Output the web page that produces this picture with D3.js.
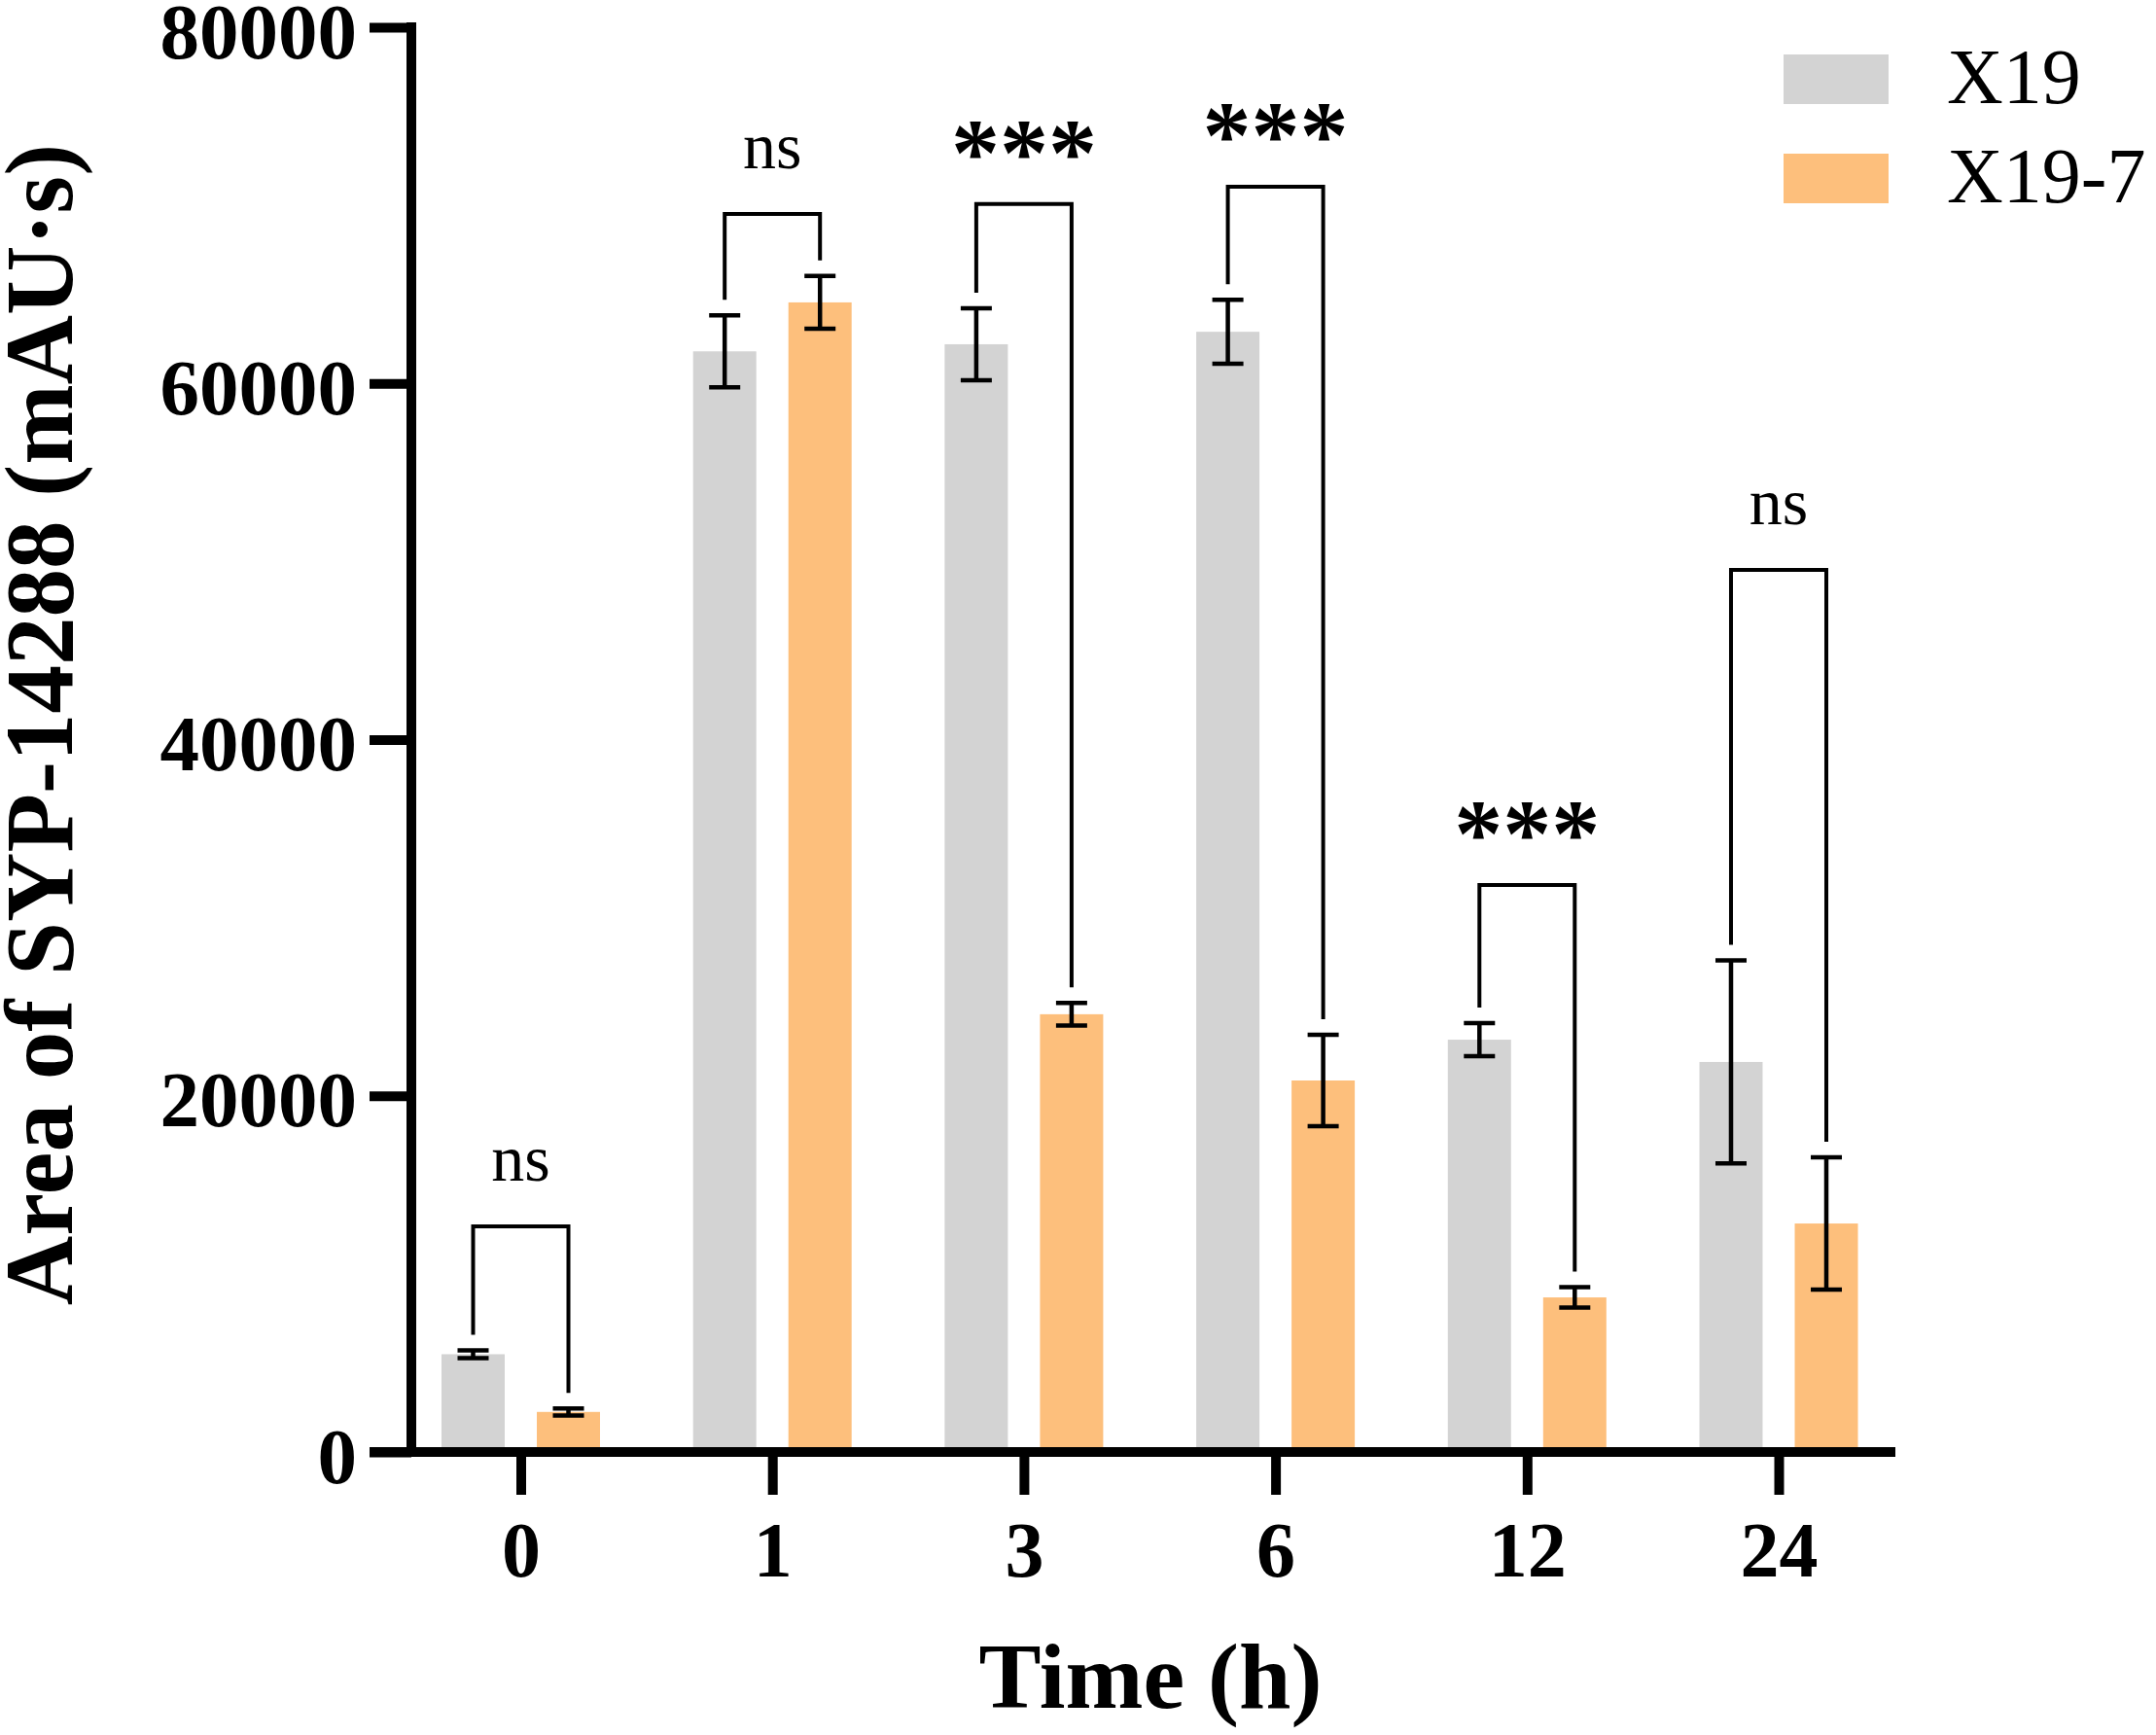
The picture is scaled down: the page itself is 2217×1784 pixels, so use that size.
<!DOCTYPE html>
<html>
<head>
<meta charset="utf-8">
<script src="https://cdn.jsdelivr.net/npm/d3@7"></script>
<style>
  body { margin: 0; background: #fff; }
  svg { display: block; }
</style>
</head>
<body>
<div id="chart"></div>
<script>
// data
const categories = ["0", "1", "3", "6", "12", "24"];
const seriesNames = ["X19", "X19-7"];
const x19Mean = [5490, 61800, 62200, 62900, 23150, 21900];
const x19Err = [220, 2020, 2020, 1800, 930, 5700];
const x197Mean = [2250, 64550, 24580, 20860, 8680, 12830];
const x197Err = [200, 1480, 630, 2570, 570, 3710];
const sigLabels = ["ns", "ns", "***", "***", "***", "ns"];
const sigLevels = [12670, 69520, 70070, 71050, 31840, 49535];
const yTicks = [0, 20000, 40000, 60000, 80000];

const COLOURS = { "X19": "#d3d3d3", "X19-7": "#fdbf7c" };
const FONT = "'Liberation Serif', 'Times New Roman', serif";

//dimensions
const width = 2217;
const height = 1784;
const axisX = 423;
const axisY = 1493;

const svg = d3.select("#chart").append("svg")
    .attr("width", width)
    .attr("height", height)
    .style("background", "#fff");

const x = d3.scalePoint().domain(categories).range([535.5, 1829]);
const x1 = d3.scaleBand().domain(seriesNames).range([-81.5, 81.5]).paddingInner(0.337);
const y = d3.scaleLinear().domain([0, 80000]).range([axisY, 28]);

const rows = categories.map((c, i) => ({
    cat: c,
    values: [
        { key: "X19", mean: x19Mean[i], err: x19Err[i] },
        { key: "X19-7", mean: x197Mean[i], err: x197Err[i] }
    ],
    label: sigLabels[i],
    level: sigLevels[i]
}));

//bars
const groupG = svg.selectAll("g.group").data(rows)
    .enter().append("g")
    .attr("class", "group")
    .attr("transform", d => "translate(" + x(d.cat) + ",0)");

groupG.selectAll("rect.bar").data(d => d.values)
    .enter().append("rect")
    .attr("class", "bar")
    .attr("x", d => x1(d.key))
    .attr("width", x1.bandwidth())
    .attr("y", d => y(d.mean))
    .attr("height", d => y(0) - y(d.mean))
    .attr("fill", d => COLOURS[d.key]);

//error bars
const capW = 32;
const errG = groupG.selectAll("g.err").data(d => d.values)
    .enter().append("g")
    .attr("class", "err")
    .attr("transform", d => "translate(" + (x1(d.key) + x1.bandwidth() / 2) + ",0)")
    .attr("stroke", "#000")
    .attr("stroke-width", 4.5);
errG.append("line")
    .attr("x1", 0).attr("x2", 0)
    .attr("y1", d => y(d.mean + d.err))
    .attr("y2", d => y(d.mean - d.err));
errG.append("line")
    .attr("x1", -capW / 2).attr("x2", capW / 2)
    .attr("y1", d => y(d.mean + d.err))
    .attr("y2", d => y(d.mean + d.err));
errG.append("line")
    .attr("x1", -capW / 2).attr("x2", capW / 2)
    .attr("y1", d => y(d.mean - d.err))
    .attr("y2", d => y(d.mean - d.err));

//significance brackets
const legGap = 16;
groupG.append("path")
    .attr("fill", "none")
    .attr("stroke", "#000")
    .attr("stroke-width", 4)
    .attr("d", d => {
        const [a, b] = d.values;
        const xa = x1(a.key) + x1.bandwidth() / 2;
        const xb = x1(b.key) + x1.bandwidth() / 2;
        const top = y(d.level);
        return "M" + xa + "," + (y(a.mean + a.err) - legGap) +
            "V" + top + "H" + xb +
            "V" + (y(b.mean + b.err) - legGap);
    });

groupG.append("text")
    .attr("x", 0)
    .attr("y", d => y(d.level) - (d.label === "ns" ? 47 : 20))
    .attr("text-anchor", "middle")
    .style("font-family", FONT)
    .style("font-size", d => d.label === "ns" ? "68px" : "100px")
    .style("font-weight", d => d.label === "ns" ? "normal" : "bold")
    .text(d => d.label);

//axes
const axisG = svg.append("g");
axisG.append("line")
    .attr("x1", axisX).attr("x2", axisX)
    .attr("y1", y(80000) - 5).attr("y2", axisY + 5)
    .attr("stroke", "#000").attr("stroke-width", 10);
axisG.append("line")
    .attr("x1", 380).attr("x2", 1949)
    .attr("y1", axisY).attr("y2", axisY)
    .attr("stroke", "#000").attr("stroke-width", 10);

const yAxisG = svg.append("g")
    .attr("transform", "translate(" + axisX + ",0)")
    .call(d3.axisLeft(y).tickValues(yTicks).tickSize(43).tickPadding(13).tickFormat(d3.format("d")));
yAxisG.select(".domain").remove();
yAxisG.selectAll(".tick line").attr("stroke", "#000").attr("stroke-width", 10);
yAxisG.selectAll(".tick text")
    .attr("dy", null)
    .attr("y", 31)
    .attr("fill", "#000")
    .style("font-family", FONT)
    .style("font-size", "81px")
    .style("font-weight", "bold");

const xAxisG = svg.append("g")
    .attr("transform", "translate(0," + axisY + ")")
    .call(d3.axisBottom(x).tickSize(44).tickSizeOuter(0));
xAxisG.select(".domain").remove();
xAxisG.selectAll(".tick line").attr("stroke", "#000").attr("stroke-width", 10);
xAxisG.selectAll(".tick text")
    .attr("dy", null)
    .attr("y", 128)
    .attr("fill", "#000")
    .style("font-family", FONT)
    .style("font-size", "80px")
    .style("font-weight", "bold");

//titles
svg.append("text")
    .attr("x", 1183)
    .attr("y", 1756)
    .attr("text-anchor", "middle")
    .style("font-family", FONT)
    .style("font-size", "96px")
    .style("font-weight", "bold")
    .text("Time (h)");

svg.append("text")
    .attr("transform", "translate(74,745) rotate(-90)")
    .attr("text-anchor", "middle")
    .style("font-family", FONT)
    .style("font-size", "99px")
    .style("font-weight", "bold")
    .text("Area of SYP-14288 (mAU·s)");

//legend
const legendG = svg.append("g").attr("transform", "translate(1834,56)");
const legendItem = legendG.selectAll("g.item").data(seriesNames)
    .enter().append("g")
    .attr("class", "item")
    .attr("transform", (d, i) => "translate(0," + (i * 102) + ")");
legendItem.append("rect")
    .attr("width", 108)
    .attr("height", 51)
    .attr("fill", d => COLOURS[d]);
legendItem.append("text")
    .attr("x", 168)
    .attr("y", 50)
    .style("font-family", FONT)
    .style("font-size", "80px")
    .text(d => d);
</script>
</body>
</html>
